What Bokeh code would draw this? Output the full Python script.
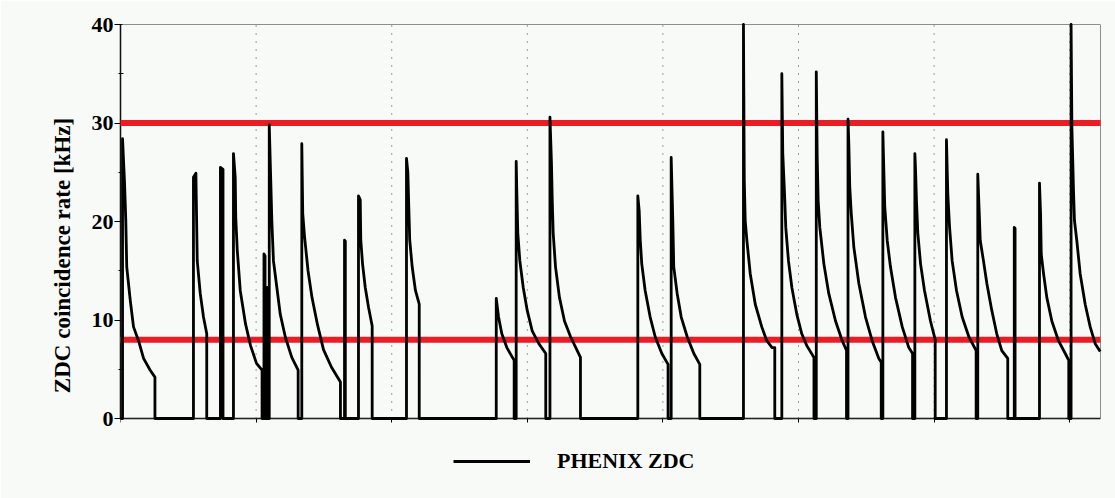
from bokeh.plotting import figure
from bokeh.models import Range1d, FixedTicker, BoxAnnotation, Legend, LegendItem
from bokeh.embed import file_html
from bokeh.resources import INLINE

# ZDC coincidence rate per store: time [days] and rate [kHz] read along each decay
fill_times = [
    [0.015, 0.029, 0.039, 0.046, 0.072, 0.096, 0.133, 0.170, 0.219, 0.254],
    [0.538, 0.556, 0.561, 0.566, 0.588, 0.612, 0.636],
    [0.737, 0.756],
    [0.833, 0.846, 0.850, 0.861, 0.883, 0.922, 0.959, 1.003, 1.044],
    [1.058, 1.066],
    [1.073, 1.080],
    [1.084, 1.090],
    [1.097, 1.108, 1.116, 1.128, 1.153, 1.178, 1.215, 1.263, 1.310],
    [1.337, 1.344, 1.357, 1.383, 1.412, 1.453, 1.497, 1.556, 1.622],
    [1.652, 1.658],
    [1.755, 1.768, 1.772, 1.785, 1.805, 1.829, 1.856],
    [2.109, 2.119, 2.126, 2.133, 2.151, 2.175, 2.203],
    [2.771, 2.788, 2.812, 2.849, 2.903],
    [2.918, 2.923, 2.930, 2.945, 2.970, 2.999, 3.036, 3.085, 3.136],
    [3.167, 3.178, 3.184, 3.191, 3.208, 3.237, 3.274, 3.319, 3.392],
    [3.815, 3.825, 3.833, 3.844, 3.869, 3.906, 3.943, 3.992, 4.038],
    [4.061, 4.073, 4.080, 4.105, 4.135, 4.179, 4.228, 4.272],
    [4.594, 4.600, 4.607, 4.619, 4.644, 4.681, 4.729, 4.766, 4.805, 4.825],
    [4.877, 4.884, 4.897, 4.906, 4.926, 4.951, 4.987, 5.024, 5.061, 5.114],
    [5.131, 5.138, 5.145, 5.157, 5.187, 5.223, 5.273, 5.322, 5.354],
    [5.365, 5.371, 5.378, 5.389, 5.408, 5.445, 5.494, 5.543, 5.592, 5.610],
    [5.622, 5.629, 5.636, 5.654, 5.678, 5.715, 5.765, 5.813, 5.841],
    [5.858, 5.863, 5.870, 5.880, 5.900, 5.929, 5.973, 6.008],
    [6.091, 6.101, 6.114, 6.133, 6.165, 6.207, 6.256, 6.310],
    [6.322, 6.333, 6.340, 6.364, 6.389, 6.425, 6.462, 6.499, 6.543],
    [6.591, 6.597],
    [6.777, 6.785, 6.790, 6.807, 6.831, 6.868, 6.917, 6.967, 6.993],
    [7.010, 7.016, 7.021, 7.028, 7.035, 7.052, 7.077, 7.114, 7.151, 7.188, 7.225],
]
fill_rates = [
    [28.4, 24.2, 20.1, 15.4, 12.0, 9.3, 7.9, 6.1, 4.9, 4.2],
    [24.5, 24.9, 20.4, 16.0, 12.7, 10.3, 8.6],
    [25.5, 25.3],
    [26.9, 24.5, 20.4, 17.1, 13.0, 9.6, 7.4, 5.6, 4.9],
    [16.7, 16.5],
    [13.3, 13.0],
    [13.3, 13.0],
    [29.8, 24.2, 20.1, 16.0, 13.3, 10.6, 8.3, 6.2, 4.9],
    [27.9, 20.8, 18.5, 15.0, 12.3, 9.5, 7.0, 5.2, 3.7],
    [18.1, 18.0],
    [22.6, 22.2, 18.1, 15.7, 13.3, 11.3, 9.4],
    [26.4, 25.0, 21.5, 18.1, 15.4, 13.0, 11.6],
    [12.2, 10.3, 8.6, 7.2, 5.9],
    [26.1, 22.8, 18.8, 16.0, 13.3, 11.0, 8.9, 7.6, 6.6],
    [30.6, 26.0, 22.1, 18.8, 15.4, 12.3, 9.9, 8.3, 6.2],
    [22.6, 21.1, 18.1, 15.7, 13.0, 10.3, 8.3, 6.6, 5.5],
    [26.5, 20.1, 15.4, 12.7, 10.3, 8.3, 6.6, 5.5],
    [40.0, 24.2, 20.1, 18.1, 14.7, 11.6, 9.3, 7.9, 7.2, 7.2],
    [35.0, 26.9, 22.8, 19.4, 16.0, 13.3, 10.6, 8.6, 7.4, 6.2],
    [35.2, 26.4, 22.1, 19.4, 15.7, 12.7, 9.9, 7.9, 6.9],
    [30.4, 27.9, 23.5, 20.8, 17.4, 13.7, 10.3, 7.9, 6.1, 5.7],
    [29.1, 25.3, 21.5, 18.1, 15.4, 12.3, 9.3, 7.2, 6.6],
    [26.9, 25.3, 22.1, 18.8, 15.7, 13.0, 9.9, 8.0],
    [28.3, 22.8, 19.4, 16.0, 13.0, 10.3, 8.3, 6.9],
    [24.8, 20.8, 18.1, 16.0, 13.7, 11.0, 8.6, 6.9, 6.1],
    [19.4, 19.3],
    [23.9, 20.8, 16.7, 14.7, 12.3, 9.9, 7.9, 6.6, 5.9],
    [40.0, 29.6, 26.9, 23.1, 20.1, 18.1, 14.7, 11.6, 9.3, 7.6, 6.8],
]
rate_limits = [30, 8]
day_ticks = [0, 1, 2, 3, 4, 5, 6, 7]
rate_ticks = [0, 10, 20, 30, 40]
rate_minor_ticks = [5, 15, 25, 35]
series_label = "PHENIX ZDC"
rate_axis_label = "ZDC coincidence rate [kHz]"

BG = "#f8faf7"
RED = "#ec1c24"
SERIF = "Liberation Serif"

W, H = 1115, 498
TOP, BOTTOM = 24, 12          # borders above and below the frame
RATE_BAND_PX = 394            # pixel height of the 0..40 kHz band
DAY_END = 7.227
RATE_MAX = 40
# the frame reaches down into the legend area, so the rate range starts below zero
frame_h = H - TOP - BOTTOM
rate_start = -RATE_MAX * (frame_h - RATE_BAND_PX) / RATE_BAND_PX

# one continuous trace: each store rises from zero, decays, then is dumped back to zero
t, r = [0.0], [0.0]
for i, (ft, fr) in enumerate(zip(fill_times, fill_rates)):
    t.append(ft[0])
    r.append(0.0)
    t.extend(ft)
    r.extend(fr)
    if i < len(fill_times) - 1:
        t.append(ft[-1])
        r.append(0.0)

p = figure(
    width=W, height=H,
    x_range=Range1d(0, DAY_END), y_range=Range1d(rate_start, RATE_MAX),
    output_backend="svg", toolbar_location=None,
    min_border_left=120, min_border_right=15, min_border_top=TOP, min_border_bottom=BOTTOM,
    background_fill_color=BG, border_fill_color=BG,
    outline_line_color=None,
)
p.xgrid.visible = False
p.ygrid.visible = False

# dotted day boundaries over the rate band
p.segment(x0=day_ticks[1:], y0=0, x1=day_ticks[1:], y1=RATE_MAX,
          line_color="#444444", line_dash="1 7", line_width=1, level="underlay")

trace = p.line(t, r, line_color="black", line_width=2.8, line_join="round",
               level="overlay")

# box around the rate band
p.add_layout(BoxAnnotation(left=0, right=DAY_END, bottom=0, top=RATE_MAX,
                           fill_alpha=0, line_color="#222222", line_alpha=1, line_width=1))

# x axis sits at zero rate: ticks only
p.xaxis.fixed_location = 0
p.xaxis.ticker = FixedTicker(ticks=day_ticks)
p.xaxis.major_label_text_color = None
p.xaxis.major_label_text_font_size = "1px"
p.xaxis.major_label_standoff = 0
p.xaxis.major_tick_out = 4
p.xaxis.major_tick_in = 0
p.xaxis.minor_tick_line_color = None
p.xaxis.axis_line_color = "black"
p.xaxis.axis_line_width = 1.5

# y axis
p.yaxis.bounds = (0, RATE_MAX)
p.yaxis.ticker = FixedTicker(ticks=rate_ticks, minor_ticks=rate_minor_ticks)
p.yaxis.axis_label = rate_axis_label
p.yaxis.axis_label_text_font = SERIF
p.yaxis.axis_label_text_font_style = "bold"
p.yaxis.axis_label_text_font_size = "23px"
p.yaxis.axis_label_text_color = "black"
p.yaxis.axis_label_standoff = 14
p.yaxis.major_label_text_font = SERIF
p.yaxis.major_label_text_font_style = "bold"
p.yaxis.major_label_text_font_size = "22px"
p.yaxis.major_label_text_color = "black"
p.yaxis.major_label_standoff = 1
p.yaxis.major_tick_out = 6
p.yaxis.major_tick_in = 2
p.yaxis.minor_tick_out = 2
p.yaxis.minor_tick_in = 3
p.yaxis.axis_line_color = "black"
p.yaxis.axis_line_width = 1.5

# rate limits, drawn across the whole page width
for lim in rate_limits:
    p.add_layout(BoxAnnotation(
        left=0, right=W, left_units="canvas", right_units="canvas",
        bottom=lim, top=lim, fill_alpha=0,
        line_color=RED, line_alpha=1, line_width=6,
    ))

legend = Legend(
    items=[LegendItem(label=series_label, renderers=[trace])],
    location=(333, 12),
    glyph_width=77, glyph_height=24, label_standoff=27,
    label_text_font=SERIF, label_text_font_style="bold", label_text_font_size="22px",
    label_text_color="black",
    padding=0, margin=0, border_line_alpha=0, background_fill_alpha=0,
)
p.add_layout(legend)

open("out.html", "w").write(file_html(p, INLINE))
